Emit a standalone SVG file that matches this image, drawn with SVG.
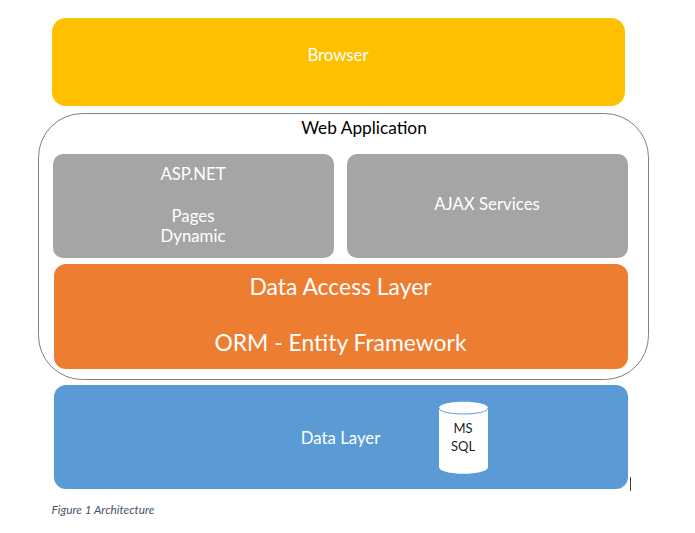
<svg xmlns="http://www.w3.org/2000/svg" width="695" height="533" viewBox="0 0 695 533">
<style>
text{font-family:Lato,"Liberation Sans",sans-serif;text-anchor:middle}
.w{fill:#fff}
.gray{fill:#a5a5a5}
.s16{font-size:16.800px}
.s22{font-size:22.900px}
</style>
<rect width="695" height="533" fill="#fff"/>
<g id="browser"><rect x="52" y="18" width="573" height="88" rx="14" fill="#ffc000"/><text class="w s16" x="338" y="61">Browser</text></g>
<g id="web-application"><rect x="38.500" y="113.500" width="610" height="266" rx="44" fill="#fff" stroke="#7f7f7f" stroke-width="1"/><text class="s16" x="364" y="134" fill="#000" style="font-size:17.300px">Web Application</text></g>
<g id="aspnet"><rect class="gray" x="53" y="154" width="281" height="104" rx="10"/><text class="w s16" x="193" y="180">ASP.NET</text><text class="w s16" x="193" y="222">Pages</text><text class="w s16" x="193" y="242">Dynamic</text></g>
<g id="ajax-services"><rect class="gray" x="347" y="154" width="281" height="104" rx="10"/><text class="w s16" x="487" y="210">AJAX Services</text></g>
<g id="data-access-layer"><rect x="54" y="264" width="574" height="105" rx="12" fill="#ed7d31"/><text class="w s22" x="340.500" y="295">Data Access Layer</text><text class="w s22" x="340.500" y="351">ORM - Entity Framework</text></g>
<g id="data-layer"><rect x="54" y="385" width="574" height="104" rx="12" fill="#5b9bd5"/><text class="w s16" x="340.500" y="444">Data Layer</text></g>
<g id="ms-sql"><path d="M439 408C439 399.500 488 399.500 488 408V467C488 476 439 476 439 467Z" fill="#fff"/><path d="M439 408C439 416 488 416 488 408" fill="none" stroke="#5b9bd5" stroke-width="1"/><text x="463" y="433" font-size="13" fill="#222">MS</text><text x="463" y="451" font-size="13" fill="#222">SQL</text></g>
<g id="connectors"/>
<line x1="630.500" y1="477" x2="630.500" y2="491" stroke="#444" stroke-width="1"/>
<text x="103" y="514" font-size="11.800" font-style="italic" fill="#44546a">Figure 1 Architecture</text>
</svg>
